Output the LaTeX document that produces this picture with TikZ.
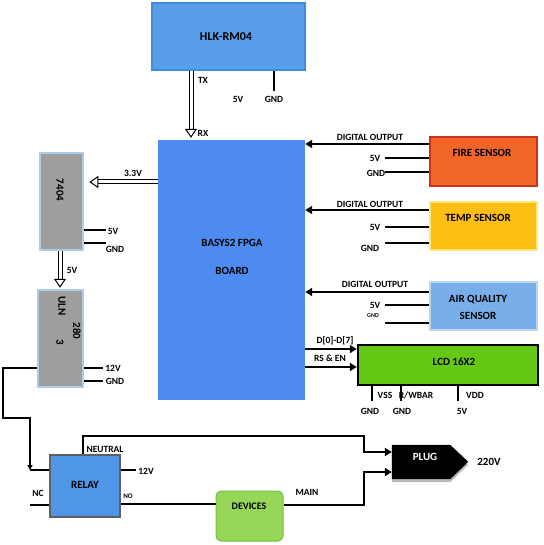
\documentclass[tikz,border=0pt]{standalone}
\usepackage{fontspec}
\setmainfont{Carlito}
\usetikzlibrary{arrows.meta,calc}
\definecolor{hlkfill}{RGB}{88,158,232}
\definecolor{hlkdraw}{RGB}{60,140,225}
\definecolor{fpgafill}{RGB}{77,139,240}
\definecolor{icfill}{RGB}{158,158,158}
\definecolor{icdraw}{RGB}{170,205,235}
\definecolor{relayfill}{RGB}{80,150,230}
\definecolor{relaydraw}{RGB}{95,95,95}
\definecolor{firefill}{RGB}{242,101,40}
\definecolor{firedraw}{RGB}{200,50,30}
\definecolor{tempfill}{RGB}{255,190,20}
\definecolor{tempdraw}{RGB}{255,230,120}
\definecolor{airfill}{RGB}{120,175,235}
\definecolor{airdraw}{RGB}{190,215,240}
\definecolor{lcdfill}{RGB}{100,200,20}
\definecolor{devfill}{RGB}{150,215,90}
\definecolor{devdraw}{RGB}{120,190,60}
\begin{document}
\begin{tikzpicture}[x=1pt,y=-1pt,
  lbl/.style={font=\bfseries\fontsize{9.5}{11}\selectfont, inner sep=0pt},
  tinylbl/.style={font=\bfseries\fontsize{6}{7}\selectfont, inner sep=0pt},
  big/.style={font=\bfseries\fontsize{11}{13}\selectfont, inner sep=0pt},
  box/.style={rectangle, inner sep=0pt},
  pin/.style={line width=2.2pt},
  wire/.style={line width=2pt},
  thinwire/.style={line width=1.3pt},
  arr/.style={line width=2pt, -{Triangle[length=7pt,width=8pt]}},
  thinarr/.style={line width=1.3pt, -{Triangle[length=5pt,width=5pt]}},
  hollow/.style={double, double distance=3pt, line width=1pt, -{Triangle[open,length=9pt,width=12pt,line width=1pt]}}]
\useasboundingbox (0,0) rectangle (543,545);

% boxes
\node[box, fill=hlkfill, draw=hlkdraw, line width=1.5pt, minimum width=153pt, minimum height=67pt] (hlk) at (228.5,36.5) {};
\node[big, font=\bfseries\fontsize{12}{14}\selectfont] (hlkt) at (226,37) {HLK-RM04};
\node[box, fill=fpgafill, minimum width=147pt, minimum height=260pt] (fpga) at (231.5,270) {};
\node[big, align=center, font=\bfseries\fontsize{11}{28}\selectfont] (fpgat) at (232,257) {BASYS2 FPGA\\BOARD};
\node[box, fill=icfill, draw=icdraw, line width=2.5pt, minimum width=43pt, minimum height=97pt] (ic) at (61.5,201.5) {};
\node[big, rotate=-90] (ict) at (60,190) {7404};
\node[box, fill=icfill, draw=icdraw, line width=2.5pt, minimum width=45pt, minimum height=97pt] (uln) at (60.5,338.5) {};
\node[big, rotate=-90] (ulnt1) at (62,306) {ULN};
\node[big, rotate=-90] (ulnt2) at (77,331) {280};
\node[big, rotate=-90] (ulnt3) at (60,342) {3};
\node[box, fill=relayfill, draw=relaydraw, line width=2.5pt, minimum width=70pt, minimum height=62pt] (relay) at (85,486) {};
\node[big] (relayt) at (85,485) {RELAY};
\node[box, fill=devfill, draw=devdraw, line width=1pt, rounded corners=5pt, minimum width=67pt, minimum height=50pt] (dev) at (249.5,516) {};
\node[big, font=\bfseries\fontsize{10}{12}\selectfont] (devt) at (249,506) {DEVICES};
\node[box, minimum width=58pt, minimum height=34pt] (plug) at (421,462) {};
\fill[gray!55] ($(plug.north west)+(0,3)$) -- ($(plug.north east)+(0,3)$) -- ++(18,17) -- ($(plug.south east)+(0,3)$) -- ($(plug.south west)+(0,3)$) -- cycle;
\fill[black] (plug.north west) -- (plug.north east) -- ++(18,17) -- (plug.south east) -- (plug.south west) -- cycle;
\node[big, text=white] (plugt) at (425,457) {PLUG};
\node[box, fill=firefill, draw=firedraw, line width=2pt, minimum width=107pt, minimum height=49pt] (fire) at (483,161.5) {};
\node[big] (firet) at (482,153) {FIRE SENSOR};
\node[box, fill=tempfill, draw=tempdraw, line width=2pt, minimum width=107pt, minimum height=48pt] (temp) at (483,226) {};
\node[big] (tempt) at (478,218) {TEMP SENSOR};
\node[box, fill=airfill, draw=airdraw, line width=2pt, minimum width=107pt, minimum height=48pt] (air) at (483,306) {};
\node[big, align=center, font=\bfseries\fontsize{11}{17}\selectfont] (airt) at (478,307) {AIR QUALITY\\SENSOR};
\node[box, fill=lcdfill, draw=black, line width=2.5pt, minimum width=180pt, minimum height=40pt] (lcd) at (448,365) {};
\node[big] (lcdt) at (454,362) {LCD 16X2};

% HLK to FPGA
\draw[hollow] (hlk.south -| 191,0) -- ($(fpga.north -| 191,0)+(0,-2)$);
\node[lbl] (tx) at (203,80) {TX};
\node[lbl] (rx) at (203,133) {RX};
\node[lbl] (h5v) at (238,99) {5V};
\draw[pin] (hlk.south -| 274,0) -- ++(0,20) coordinate (hgnd);
\node[lbl] (hgndl) at (274,99) {GND};

% FPGA to 7404
\draw[hollow] (fpga.west |- 0,182) -- ($(ic.east |- 0,182)+(5,0)$);
\node[lbl] (v33) at (133,173) {3.3V};
\draw[pin] (ic.east |- 0,230) -- ++(22,0) coordinate (ic5);
\node[lbl] (ic5l) at (113,231) {5V};
\draw[pin] (ic.east |- 0,243) -- ++(22,0) coordinate (icg);
\node[lbl] (icgl) at (115,249) {GND};
\draw[hollow] (ic.south -| 60,0) -- ($(uln.north -| 60,0)+(0,-1)$);
\node[lbl] (ul5) at (72,270) {5V};

% ULN pins
\draw[pin] (uln.east |- 0,368) -- ++(19,0) coordinate (u12);
\node[lbl] (u12l) at (113,368) {12V};
\draw[pin] (uln.east |- 0,381) -- ++(19,0) coordinate (ug);
\node[lbl] (ugl) at (115,381) {GND};

% ULN to relay
\coordinate (rin) at (30,470);
\draw[thinarr] (uln.west |- 0,368) -- (3,368) -- (3,418) -- (30,418) -- (rin);
\draw[thinwire] (rin) -- (relay.west |- rin);
\coordinate (nc) at (30,505);
\draw[thinwire] (nc) -- (relay.west |- nc);
\node[lbl] (ncl) at (38,493) {NC};
\draw[pin] (relay.east |- 0,470) -- ++(15,0) coordinate (r12);
\node[lbl] (r12l) at (146,471) {12V};
\node[tinylbl, font=\bfseries\fontsize{7}{8}\selectfont] (nol) at (128,496) {NO};
\draw[wire] (relay.east |- 0,504) -- (dev.west |- 0,504);
\node[lbl] (neut) at (105,449) {NEUTRAL};
\draw[arr] (relay.north -| 83,0) -- (83,436) -- (364,436) -- (364,452) -- (plug.west |- 0,452);
\draw[arr] (dev.east |- 0,505) -- (364,505) -- (364,472) -- (plug.west |- 0,472);
\node[lbl] (mainl) at (307,492) {MAIN};
\node[lbl, font=\bfseries\fontsize{11}{13}\selectfont] (v220) at (489,462) {220V};

% sensors
\draw[arr] (fire.west |- 0,144) -- (fpga.east |- 0,144);
\node[lbl] (do1) at (370,137) {DIGITAL OUTPUT};
\draw[pin] (fire.west |- 0,158) -- (385,158);
\node[lbl] (f5) at (375,158) {5V};
\draw[pin] (fire.west |- 0,172) -- (385,172);
\node[lbl] (fg) at (376,173) {GND};

\draw[arr] (temp.west |- 0,210) -- (fpga.east |- 0,210);
\node[lbl] (do2) at (370,204) {DIGITAL OUTPUT};
\draw[pin] (temp.west |- 0,227) -- (385,227);
\node[lbl] (t5) at (375,227) {5V};
\draw[pin] (temp.west |- 0,243) -- (385,243);
\node[lbl] (tg) at (370,248) {GND};

\draw[arr] (air.west |- 0,292) -- (fpga.east |- 0,292);
\node[lbl] (do3) at (375,284) {DIGITAL OUTPUT};
\draw[pin] (air.west |- 0,305) -- (385,305);
\node[lbl] (a5) at (375,305) {5V};
\draw[pin] (air.west |- 0,323) -- (385,323);
\node[tinylbl] (ag) at (373,316) {GND};

% LCD
\draw[arr] (fpga.east |- 0,349) -- (lcd.west |- 0,349);
\node[lbl] (dl) at (335,341) {D[0]-D[7]};
\draw[arr] (fpga.east |- 0,367) -- (lcd.west |- 0,367);
\node[lbl] (rsl) at (330,358) {RS \& EN};
\draw[pin] (lcd.south -| 372,0) -- ++(0,15) coordinate (p1);
\draw[pin] (lcd.south -| 401,0) -- ++(0,15) coordinate (p2);
\draw[pin] (lcd.south -| 458,0) -- ++(0,15) coordinate (p3);
\node[lbl] (vss) at (385,395) {VSS};
\node[lbl] (rw) at (416,395) {R/WBAR};
\node[lbl] (vdd) at (475,395) {VDD};
\node[lbl] (g1) at (370,411) {GND};
\node[lbl] (g2) at (402,411) {GND};
\node[lbl] (v5) at (462,411) {5V};
\end{tikzpicture}
\end{document}
